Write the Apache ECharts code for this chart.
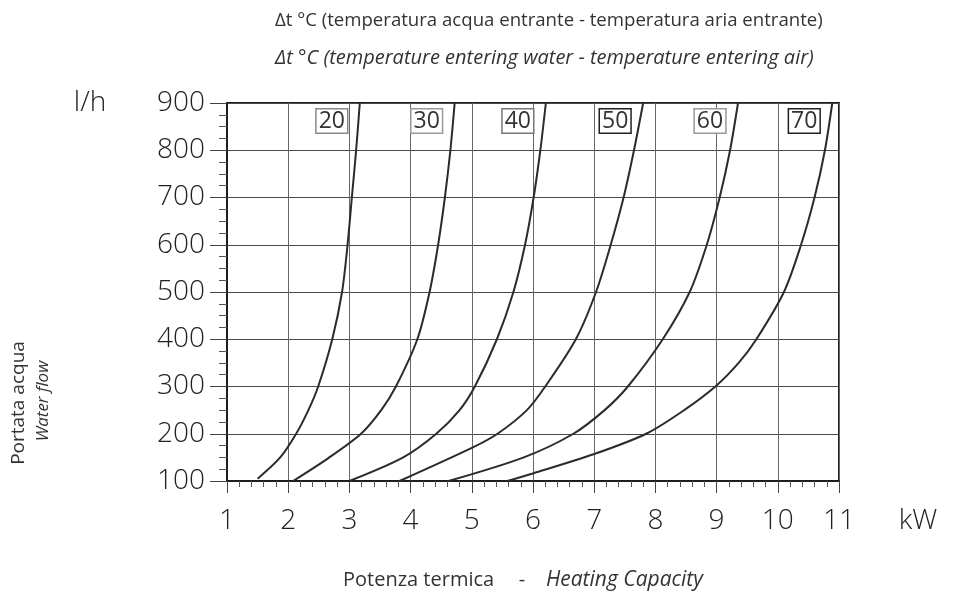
<!DOCTYPE html>
<html><head><meta charset="utf-8">
<script src="https://cdn.jsdelivr.net/npm/echarts@6/dist/echarts.min.js"></script>
<style>html,body{margin:0;padding:0;background:#fff}#c{width:965px;height:600px}</style>
</head><body><div id="c"></div>
<script>
// Tick values
const xTicks = [1, 2, 3, 4, 5, 6, 7, 8, 9, 10, 11];
const yTicks = [100, 200, 300, 400, 500, 600, 700, 800, 900];
// Δt curves: [kW, l/h]
const curveNames = ['20', '30', '40', '50', '60', '70'];
const dt20 = [[1.5,105],[1.87,150],[2.13,200],[2.33,250],[2.49,300],[2.72,400],[2.88,500],[2.97,600],[3.04,700],[3.11,800],[3.17,900]];
const dt30 = [[2.08,100],[2.65,148],[3.19,200],[3.52,250],[3.76,300],[4.11,400],[4.31,500],[4.45,600],[4.56,700],[4.65,800],[4.72,900]];
const dt40 = [[3.0,100],[3.88,150],[4.42,200],[4.80,250],[5.05,300],[5.41,400],[5.68,500],[5.87,600],[6.01,700],[6.12,800],[6.21,900]];
const dt50 = [[3.82,100],[5.0,170],[5.42,200],[5.90,250],[6.20,300],[6.70,400],[7.03,500],[7.27,600],[7.48,700],[7.65,800],[7.80,900]];
const dt60 = [[4.62,100],[5.85,150],[6.66,200],[7.17,250],[7.55,300],[8.12,400],[8.56,500],[8.84,600],[9.05,700],[9.22,800],[9.35,900]];
const dt70 = [[5.58,100],[6.0,116],[7.0,157],[7.85,200],[8.47,250],[8.98,300],[9.36,350],[9.65,400],[10.1,500],[10.38,600],[10.6,700],[10.77,800],[10.89,900]];
const curves = [dt20, dt30, dt40, dt50, dt60, dt70];
const labelBorders = ['#888', '#999', '#777', '#222', '#999', '#222'];

const FONT = '"Open Sans", "Noto Sans", sans-serif';
const chart = echarts.init(document.getElementById('c'), null, {renderer: 'canvas'});

const series = curves.map((d, i) => ({
  name: curveNames[i],
  type: 'line',
  data: d,
  showSymbol: false,
  smooth: 0.3,
  lineStyle: {color: '#2b2b2b', width: 2},
  z: 5,
  silent: true
}));

chart.setOption({
  animation: false,
  backgroundColor: '#fff',
  grid: {left: 227, right: 126, top: 103, bottom: 119, show: true, borderColor: '#1e1e1e', borderWidth: 2},
  xAxis: {
    type: 'value', min: xTicks[0], max: xTicks[xTicks.length - 1], interval: 1,
    axisLine: {lineStyle: {color: '#1e1e1e', width: 2}},
    axisTick: {length: 12, lineStyle: {color: '#444', width: 1}},
    minorTick: {show: true, splitNumber: 5, length: 6, lineStyle: {color: '#555', width: 1}},
    splitLine: {show: true, lineStyle: {color: '#666', width: 1}},
    axisLabel: {fontSize: 28, color: '#222', fontWeight: 300, fontFamily: FONT, margin: 26}
  },
  yAxis: {
    type: 'value', min: yTicks[0], max: yTicks[yTicks.length - 1], interval: 100,
    axisLine: {lineStyle: {color: '#1e1e1e', width: 2}},
    axisTick: {length: 17, lineStyle: {color: '#444', width: 1}},
    minorTick: {show: true, splitNumber: 4, length: 8, lineStyle: {color: '#555', width: 1}},
    splitLine: {show: true, lineStyle: {color: '#4a4a4a', width: 1}},
    axisLabel: {fontSize: 28, color: '#222', fontWeight: 300, fontFamily: FONT, margin: 22}
  },
  series: series
});

const graphics = [
  {type: 'text', left: 275, top: 11, style: {text: 'Δt °C (temperatura acqua entrante - temperatura aria entrante)', fontSize: 18.6, fill: '#333', fontFamily: FONT}},
  {type: 'text', left: 275, top: 48, style: {text: 'Δt °C (temperature entering water - temperature entering air)', fontSize: 20, fontStyle: 'italic', fill: '#333', fontFamily: FONT}},
  {type: 'text', x: 90, y: 103, style: {text: 'l/h', fontSize: 28, fontWeight: 300, fill: '#222', fontFamily: FONT, align: 'center', verticalAlign: 'middle'}},
  {type: 'text', x: 918, y: 521, style: {text: 'kW', fontSize: 28, fontWeight: 300, fill: '#222', fontFamily: FONT, align: 'center', verticalAlign: 'middle'}},
  {type: 'text', x: 343, y: 580, style: {text: 'Potenza termica', fontSize: 20, fill: '#333', fontFamily: FONT, align: 'left', verticalAlign: 'middle'}},
  {type: 'text', x: 522, y: 580, style: {text: '-', fontSize: 20, fill: '#333', fontFamily: FONT, align: 'center', verticalAlign: 'middle'}},
  {type: 'text', x: 546, y: 580, style: {text: 'Heating Capacity', fontSize: 21, fontStyle: 'italic', fill: '#333', fontFamily: FONT, align: 'left', verticalAlign: 'middle'}},
  {type: 'text', x: 19, y: 403, rotation: Math.PI / 2, style: {text: 'Portata acqua', fontSize: 19, fill: '#333', fontFamily: FONT, align: 'center', verticalAlign: 'middle'}},
  {type: 'text', x: 43, y: 401, rotation: Math.PI / 2, style: {text: 'Water flow', fontSize: 17, fontStyle: 'italic', fill: '#333', fontFamily: FONT, align: 'center', verticalAlign: 'middle'}}
];
// Curve labels placed relative to each curve's top end
curves.forEach((d, i) => {
  const p = chart.convertToPixel({gridIndex: 0}, d[d.length - 1]);
  graphics.push({
    type: 'text', x: p[0] - 28, y: p[1] + 18, z: 10,
    style: {
      text: curveNames[i], fontSize: 23, fill: '#333', fontFamily: FONT,
      align: 'center', verticalAlign: 'middle',
      backgroundColor: '#fff', borderColor: labelBorders[i], borderWidth: 1.5,
      padding: [0, 2, 0, 2]
    }
  });
});
chart.setOption({graphic: graphics});
</script></body></html>
